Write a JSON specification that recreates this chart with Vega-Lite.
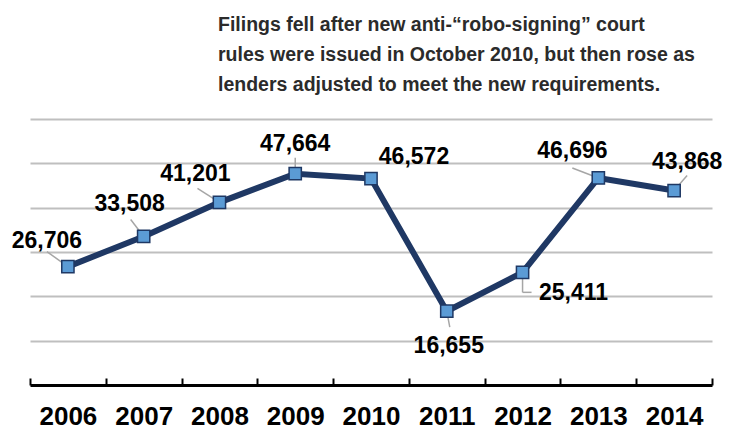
{
  "$schema": "https://vega.github.io/schema/vega-lite/v6.json",
  "width": 682,
  "height": 266,
  "autosize": {"type": "none"},
  "padding": {"left": 30, "top": 119, "right": 22, "bottom": 45},
  "background": "white",
  "title": {
    "text": ["Filings fell after new anti-“robo-signing” court", "rules were issued in October 2010, but then rose as", "lenders adjusted to meet the new requirements."],
    "anchor": "start",
    "frame": "group",
    "dx": 188,
    "offset": 26,
    "baseline": "alphabetic",
    "dy": 17,
    "font": "Liberation Sans Narrow, Liberation Sans, Arial",
    "fontSize": 19.5,
    "fontWeight": "bold",
    "color": "#2b2b2b",
    "lineHeight": 30
  },
  "data": {
    "values": [
      {"year": 2006, "value": 26706},
      {"year": 2007, "value": 33508},
      {"year": 2008, "value": 41201},
      {"year": 2009, "value": 47664},
      {"year": 2010, "value": 46572},
      {"year": 2011, "value": 16655},
      {"year": 2012, "value": 25411},
      {"year": 2013, "value": 46696},
      {"year": 2014, "value": 43868}
    ]
  },
  "encoding": {
    "x": {
      "field": "year",
      "type": "quantitative",
      "scale": {"domain": [2005.5, 2014.5], "nice": false, "zero": false},
      "axis": {
        "title": null,
        "values": [2005.5, 2006.5, 2007.5, 2008.5, 2009.5, 2010.5, 2011.5, 2012.5, 2013.5, 2014.5],
        "labelExpr": "datum.value < 2014 ? toString(datum.value + 0.5) : ''",
        "labelOffset": 37.9,
        "labelFont": "Liberation Sans, Arial",
        "labelFontSize": 26,
        "labelFontWeight": "bold",
        "labelColor": "#000000",
        "labelPadding": 25,
        "labelFlush": false,
        "labelOverlap": false,
        "domainColor": "#000000",
        "domainWidth": 3,
        "tickColor": "#000000",
        "tickWidth": 2,
        "tickSize": -7,
        "grid": false
      }
    },
    "y": {
      "field": "value",
      "type": "quantitative",
      "scale": {"domain": [0, 60000], "nice": false},
      "axis": {
        "title": null,
        "labels": false,
        "ticks": false,
        "domain": false,
        "values": [10000, 20000, 30000, 40000, 50000, 60000],
        "grid": true,
        "gridColor": "#BFBFBF",
        "gridWidth": 2
      }
    }
  },
  "layer": [
    {"mark": {"type": "line", "color": "#1F3864", "strokeWidth": 6}},
    {"transform": [{"filter": "datum.year == 2006"}], "mark": {"type": "rule", "color": "#A6A6A6", "strokeWidth": 1.5, "x2Offset": -21, "y2Offset": -15}, "encoding": {"x2": {"field": "year"}, "y2": {"field": "value"}}},
    {"transform": [{"filter": "datum.year == 2007"}], "mark": {"type": "rule", "color": "#A6A6A6", "strokeWidth": 1.5, "x2Offset": -13, "y2Offset": -17}, "encoding": {"x2": {"field": "year"}, "y2": {"field": "value"}}},
    {"transform": [{"filter": "datum.year == 2008"}], "mark": {"type": "rule", "color": "#A6A6A6", "strokeWidth": 1.5, "x2Offset": -22, "y2Offset": -14}, "encoding": {"x2": {"field": "year"}, "y2": {"field": "value"}}},
    {"transform": [{"filter": "datum.year == 2009"}], "mark": {"type": "rule", "color": "#A6A6A6", "strokeWidth": 1.5, "x2Offset": 0, "y2Offset": -16}, "encoding": {"x2": {"field": "year"}, "y2": {"field": "value"}}},
    {"transform": [{"filter": "datum.year == 2011"}], "mark": {"type": "rule", "color": "#A6A6A6", "strokeWidth": 1.5, "x2Offset": 3, "y2Offset": 16}, "encoding": {"x2": {"field": "year"}, "y2": {"field": "value"}}},
    {"transform": [{"filter": "datum.year == 2012"}], "mark": {"type": "rule", "color": "#A6A6A6", "strokeWidth": 1.5, "x2Offset": 0, "y2Offset": 20}, "encoding": {"x2": {"field": "year"}, "y2": {"field": "value"}}},
    {"transform": [{"filter": "datum.year == 2012"}], "mark": {"type": "rule", "color": "#A6A6A6", "strokeWidth": 1.5, "yOffset": 20, "x2Offset": 9, "y2Offset": 20}, "encoding": {"x2": {"field": "year"}, "y2": {"field": "value"}}},
    {"transform": [{"filter": "datum.year == 2013"}], "mark": {"type": "rule", "color": "#A6A6A6", "strokeWidth": 1.5, "x2Offset": -26, "y2Offset": -10}, "encoding": {"x2": {"field": "year"}, "y2": {"field": "value"}}},
    {"transform": [{"filter": "datum.year == 2014"}], "mark": {"type": "rule", "color": "#A6A6A6", "strokeWidth": 1.5, "x2Offset": 13, "y2Offset": -15}, "encoding": {"x2": {"field": "year"}, "y2": {"field": "value"}}},
    {"mark": {"type": "point", "shape": "square", "filled": true, "fill": "#5B9BD5", "stroke": "#1F3864", "strokeWidth": 1.5, "size": 150, "opacity": 1}},
    {"transform": [{"filter": "datum.year == 2006"}], "mark": {"type": "text", "font": "Liberation Sans, Arial", "fontSize": 23, "fontWeight": "bold", "color": "#000000", "align": "center", "baseline": "alphabetic", "dx": -21, "dy": -19}, "encoding": {"text": {"field": "value", "format": ","}}},
    {"transform": [{"filter": "datum.year == 2007"}], "mark": {"type": "text", "font": "Liberation Sans, Arial", "fontSize": 23, "fontWeight": "bold", "color": "#000000", "align": "center", "baseline": "alphabetic", "dx": -14, "dy": -25}, "encoding": {"text": {"field": "value", "format": ","}}},
    {"transform": [{"filter": "datum.year == 2008"}], "mark": {"type": "text", "font": "Liberation Sans, Arial", "fontSize": 23, "fontWeight": "bold", "color": "#000000", "align": "center", "baseline": "alphabetic", "dx": -24, "dy": -21}, "encoding": {"text": {"field": "value", "format": ","}}},
    {"transform": [{"filter": "datum.year == 2009"}], "mark": {"type": "text", "font": "Liberation Sans, Arial", "fontSize": 23, "fontWeight": "bold", "color": "#000000", "align": "center", "baseline": "alphabetic", "dx": 0, "dy": -23}, "encoding": {"text": {"field": "value", "format": ","}}},
    {"transform": [{"filter": "datum.year == 2010"}], "mark": {"type": "text", "font": "Liberation Sans, Arial", "fontSize": 23, "fontWeight": "bold", "color": "#000000", "align": "center", "baseline": "alphabetic", "dx": 43, "dy": -15}, "encoding": {"text": {"field": "value", "format": ","}}},
    {"transform": [{"filter": "datum.year == 2011"}], "mark": {"type": "text", "font": "Liberation Sans, Arial", "fontSize": 23, "fontWeight": "bold", "color": "#000000", "align": "center", "baseline": "alphabetic", "dx": 2, "dy": 42}, "encoding": {"text": {"field": "value", "format": ","}}},
    {"transform": [{"filter": "datum.year == 2012"}], "mark": {"type": "text", "font": "Liberation Sans, Arial", "fontSize": 23, "fontWeight": "bold", "color": "#000000", "align": "center", "baseline": "alphabetic", "dx": 51, "dy": 28}, "encoding": {"text": {"field": "value", "format": ","}}},
    {"transform": [{"filter": "datum.year == 2013"}], "mark": {"type": "text", "font": "Liberation Sans, Arial", "fontSize": 23, "fontWeight": "bold", "color": "#000000", "align": "center", "baseline": "alphabetic", "dx": -26, "dy": -20}, "encoding": {"text": {"field": "value", "format": ","}}},
    {"transform": [{"filter": "datum.year == 2014"}], "mark": {"type": "text", "font": "Liberation Sans, Arial", "fontSize": 23, "fontWeight": "bold", "color": "#000000", "align": "center", "baseline": "alphabetic", "dx": 13, "dy": -22}, "encoding": {"text": {"field": "value", "format": ","}}}
  ],
  "config": {"view": {"stroke": null}}
}
